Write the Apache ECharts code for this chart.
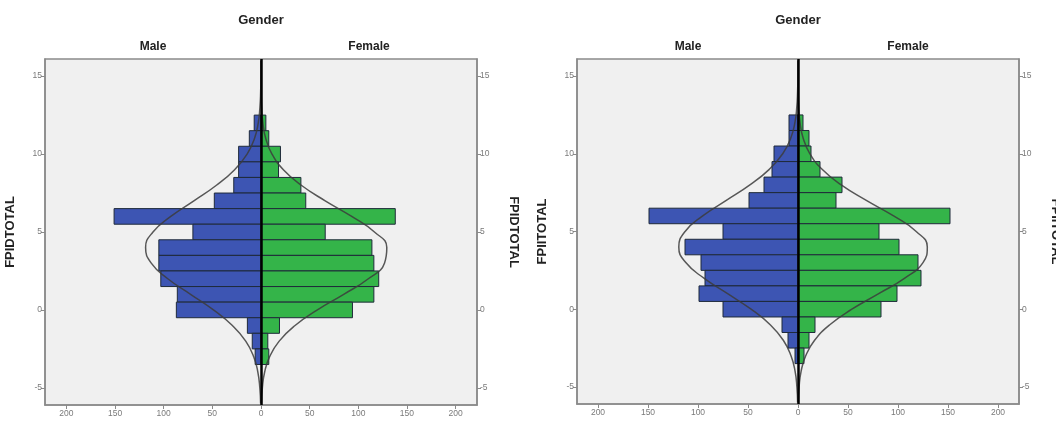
<!DOCTYPE html>
<html>
<head>
<meta charset="utf-8">
<script src="https://cdn.jsdelivr.net/npm/echarts@6/dist/echarts.min.js"></script>
<style>
html,body{margin:0;padding:0;background:#ffffff;}
#c{width:1056px;height:421px;}
</style>
</head>
<body>
<div id="c"></div>
<script>
// ---- data ----
const bins = [12, 11, 10, 9, 8, 7, 6, 5, 4, 3, 2, 1, 0, -1, -2, -3];
// left panel (FPIDTOTAL)
const maleA   = [7, 12, 23, 23, 28, 48, 151, 70, 105, 105, 103, 86, 87, 14, 9, 6];
const femaleA = [5, 8, 20, 18, 41, 46, 138, 66, 114, 116, 121, 116, 94, 19, 7, 8];
// right panel (FPIITOTAL)
const maleB   = [9, 9, 24, 26, 34, 49, 149, 75, 113, 97, 93, 99, 75, 16, 10, 3];
const femaleB = [5, 11, 13, 22, 44, 38, 152, 81, 101, 120, 123, 99, 83, 17, 11, 6];
// normal-curve overlay, read at integer score levels
const curveY       = [-6, -5, -4, -3, -2, -1, 0, 1, 2, 3, 4, 5, 6, 7, 8, 9, 10, 11, 12, 13, 14, 15, 16];
const maleCurveA   = [0.4, 1.2, 3.2, 7.5, 15.7, 29.4, 48.9, 72.4, 95.8, 112.8, 118.6, 111.0, 92.7, 69.0, 45.8, 27.1, 14.3, 6.7, 2.8, 1.1, 0.35, 0.1, 0.03];
const femaleCurveA = [0.5, 1.4, 3.7, 8.9, 18.7, 35.0, 58.0, 85.0, 110.3, 126.9, 129.3, 116.6, 93.2, 66.0, 41.4, 23.0, 11.3, 4.9, 1.9, 0.65, 0.2, 0.05, 0.01];
const maleCurveB   = [0.37, 1.1, 2.9, 7.0, 14.7, 27.8, 46.9, 70.4, 94.1, 112.2, 119.2, 112.9, 95.3, 71.7, 48.1, 28.7, 15.3, 7.3, 3.1, 1.2, 0.4, 0.1, 0.03];
const femaleCurveB = [0.36, 1.1, 3.1, 7.7, 16.6, 31.8, 53.9, 80.7, 106.8, 125.0, 129.3, 118.2, 95.6, 68.3, 43.2, 24.1, 11.9, 5.2, 2.0, 0.7, 0.2, 0.05, 0.01];
// tick labels
const xTicks = [-200, -150, -100, -50, 0, 50, 100, 150, 200];
const yTicks = [-5, 0, 5, 10, 15];
const groupTitle = 'Gender';
const sideLabels = ['Male', 'Female'];
const varNames = ['FPIDTOTAL', 'FPIITOTAL'];

// ---- styling ----
const BLUE = '#3d55b3';
const GREEN = '#34b449';
const FONT = 'Liberation Sans, Arial, sans-serif';
const labelStyle = {fontSize: 8.5, color: '#7a7a7a', fontFamily: FONT};

function barSeries(counts, sign, color, idx) {
  return {
    type: 'custom',
    xAxisIndex: idx, yAxisIndex: idx * 2,
    data: bins.map((b, i) => [sign * counts[i], b]),
    encode: {x: 0, y: 1},
    z: 2,
    silent: true,
    renderItem: function (params, api) {
      const v = api.value(0), b = api.value(1);
      const p1 = api.coord([0, b + 0.5]);
      const p2 = api.coord([v, b - 0.5]);
      return {
        type: 'rect',
        shape: {
          x: Math.min(p1[0], p2[0]), y: p1[1],
          width: Math.abs(p2[0] - p1[0]), height: p2[1] - p1[1]
        },
        style: {fill: color, stroke: '#1f2a3a', lineWidth: 1, opacity: 1}
      };
    }
  };
}

function curveSeries(vals, sign, idx) {
  return {
    type: 'line',
    xAxisIndex: idx, yAxisIndex: idx * 2,
    data: curveY.map((y, i) => [sign * vals[i], y]),
    smooth: true,
    showSymbol: false,
    silent: true,
    z: 3,
    lineStyle: {color: '#3c3c3c', width: 1.5, opacity: 0.85}
  };
}

function centerLine(idx) {
  return {
    type: 'line',
    xAxisIndex: idx, yAxisIndex: idx * 2,
    data: [],
    z: 4,
    markLine: {
      silent: true, symbol: ['none', 'none'],
      label: {show: false},
      lineStyle: {color: '#000', width: 2.5, type: 'solid'},
      data: [{xAxis: 0}]
    }
  };
}

const grids = [
  {left: 45, top: 59, width: 432, height: 346},
  {left: 577, top: 59, width: 442, height: 345}
];

function xAxis(idx, lim) {
  return {
    gridIndex: idx, type: 'value', min: -lim, max: lim,
    axisLine: {show: true, onZero: false, lineStyle: {color: '#8a8a8a', width: 1.5}},
    axisTick: {show: true, customValues: xTicks, length: 4, lineStyle: {color: '#8a8a8a'}},
    axisLabel: Object.assign({customValues: xTicks, margin: 4, formatter: v => String(Math.abs(v))}, labelStyle),
    splitLine: {show: false}
  };
}

function yAxis(idx, pos) {
  return {
    gridIndex: idx, type: 'value', min: -6.1, max: 16.1, position: pos,
    name: varNames[idx], nameLocation: 'middle',
    nameGap: pos === 'left' ? 28 : 30,
    nameRotate: pos === 'left' ? 90 : -90,
    nameTextStyle: {fontSize: 13, fontWeight: 'bold', color: '#222', fontFamily: FONT},
    axisLine: {show: true, onZero: false, lineStyle: {color: '#8a8a8a', width: 1.5}},
    axisTick: {show: true, customValues: yTicks, length: 4, lineStyle: {color: '#8a8a8a'}},
    axisLabel: Object.assign({customValues: yTicks, margin: 3}, labelStyle),
    splitLine: {show: false}
  };
}

function titleAt(text, x, y, size) {
  return {text: text, left: x, top: y, textAlign: 'center', padding: 0,
    textStyle: {fontSize: size, fontWeight: 'bold', color: '#222', fontFamily: FONT}};
}

const chart = echarts.init(document.getElementById('c'), null, {renderer: 'canvas'});
chart.setOption({
  backgroundColor: '#ffffff',
  animation: false,
  title: [
    titleAt(groupTitle, 261, 14, 13), titleAt(sideLabels[0], 153, 41, 12), titleAt(sideLabels[1], 369, 41, 12),
    titleAt(groupTitle, 798, 14, 13), titleAt(sideLabels[0], 688, 41, 12), titleAt(sideLabels[1], 908, 41, 12)
  ],
  grid: grids.map(g => Object.assign({show: true, backgroundColor: '#f0f0f0', borderColor: '#8a8a8a', borderWidth: 1.5, containLabel: false, outerBoundsMode: 'none'}, g)),
  xAxis: [xAxis(0, 222), xAxis(1, 221)],
  yAxis: [yAxis(0, 'left'), yAxis(0, 'right'), yAxis(1, 'left'), yAxis(1, 'right')],
  series: [
    barSeries(maleA, -1, BLUE, 0), barSeries(femaleA, 1, GREEN, 0),
    curveSeries(maleCurveA, -1, 0), curveSeries(femaleCurveA, 1, 0),
    centerLine(0),
    barSeries(maleB, -1, BLUE, 1), barSeries(femaleB, 1, GREEN, 1),
    curveSeries(maleCurveB, -1, 1), curveSeries(femaleCurveB, 1, 1),
    centerLine(1)
  ]
});
</script>
</body>
</html>
